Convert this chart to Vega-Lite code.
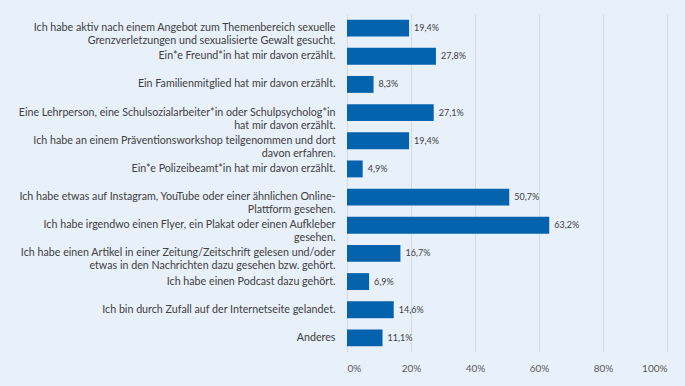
{
  "$schema": "https://vega.github.io/schema/vega-lite/v6.json",
  "width": 320,
  "height": 338,
  "autosize": {"type": "none"},
  "padding": {"left": 347, "top": 14, "right": 18, "bottom": 34},
  "background": "#e8f0fa",
  "data": {
    "values": [
      {"quelle": "Ich habe aktiv nach einem Angebot zum Themenbereich sexuelle|Grenzverletzungen und sexualisierte Gewalt gesucht.", "anteil": 0.194},
      {"quelle": "Ein*e Freund*in hat mir davon erzählt.", "anteil": 0.278},
      {"quelle": "Ein Familienmitglied hat mir davon erzählt.", "anteil": 0.083},
      {"quelle": "Eine Lehrperson, eine Schulsozialarbeiter*in oder Schulpsycholog*in|hat mir davon erzählt.", "anteil": 0.271},
      {"quelle": "Ich habe an einem Präventionsworkshop teilgenommen und dort|davon erfahren.", "anteil": 0.194},
      {"quelle": "Ein*e Polizeibeamt*in hat mir davon erzählt.", "anteil": 0.049},
      {"quelle": "Ich habe etwas auf Instagram, YouTube oder einer ähnlichen Online-|Plattform gesehen.", "anteil": 0.507},
      {"quelle": "Ich habe irgendwo einen Flyer, ein Plakat oder einen Aufkleber|gesehen.", "anteil": 0.632},
      {"quelle": "Ich habe einen Artikel in einer Zeitung/Zeitschrift gelesen und/oder|etwas in den Nachrichten dazu gesehen bzw. gehört.", "anteil": 0.167},
      {"quelle": "Ich habe einen Podcast dazu gehört.", "anteil": 0.069},
      {"quelle": "Ich bin durch Zufall auf der Internetseite gelandet.", "anteil": 0.146},
      {"quelle": "Anderes", "anteil": 0.111}
    ]
  },
  "encoding": {
    "y": {
      "field": "quelle",
      "type": "nominal",
      "sort": null,
      "scale": {"paddingInner": 0.4, "paddingOuter": 0.2},
      "axis": {
        "title": null,
        "domain": false,
        "ticks": false,
        "labelExpr": "split(datum.label, '|')",
        "labelLimit": 400,
        "labelPadding": 12,
        "labelFont": "Lato",
        "labelFontSize": 10.7,
        "labelLineHeight": 13,
        "labelColor": "#404040"
      }
    },
    "x": {
      "field": "anteil",
      "type": "quantitative",
      "scale": {"domain": [0, 1]},
      "axis": {
        "title": null,
        "format": ".0%",
        "values": [0, 0.2, 0.4, 0.6, 0.8, 1],
        "domain": false,
        "ticks": false,
        "labelPadding": 11,
        "labelFont": "Lato",
        "labelFontSize": 10,
        "labelColor": "#595959",
        "gridColor": "#d3dae3",
        "gridWidth": 1
      }
    }
  },
  "layer": [
    {"mark": {"type": "bar", "color": "#0563ad"}},
    {
      "mark": {"type": "text", "align": "left", "baseline": "middle", "dx": 5, "font": "Lato", "fontSize": 9, "color": "#404040"},
      "encoding": {"text": {"field": "anteil", "type": "quantitative", "format": ".1%"}}
    }
  ],
  "config": {
    "view": {"stroke": null},
    "locale": {"number": {"decimal": ",", "thousands": ".", "grouping": [3], "currency": ["", " €"]}}
  }
}
